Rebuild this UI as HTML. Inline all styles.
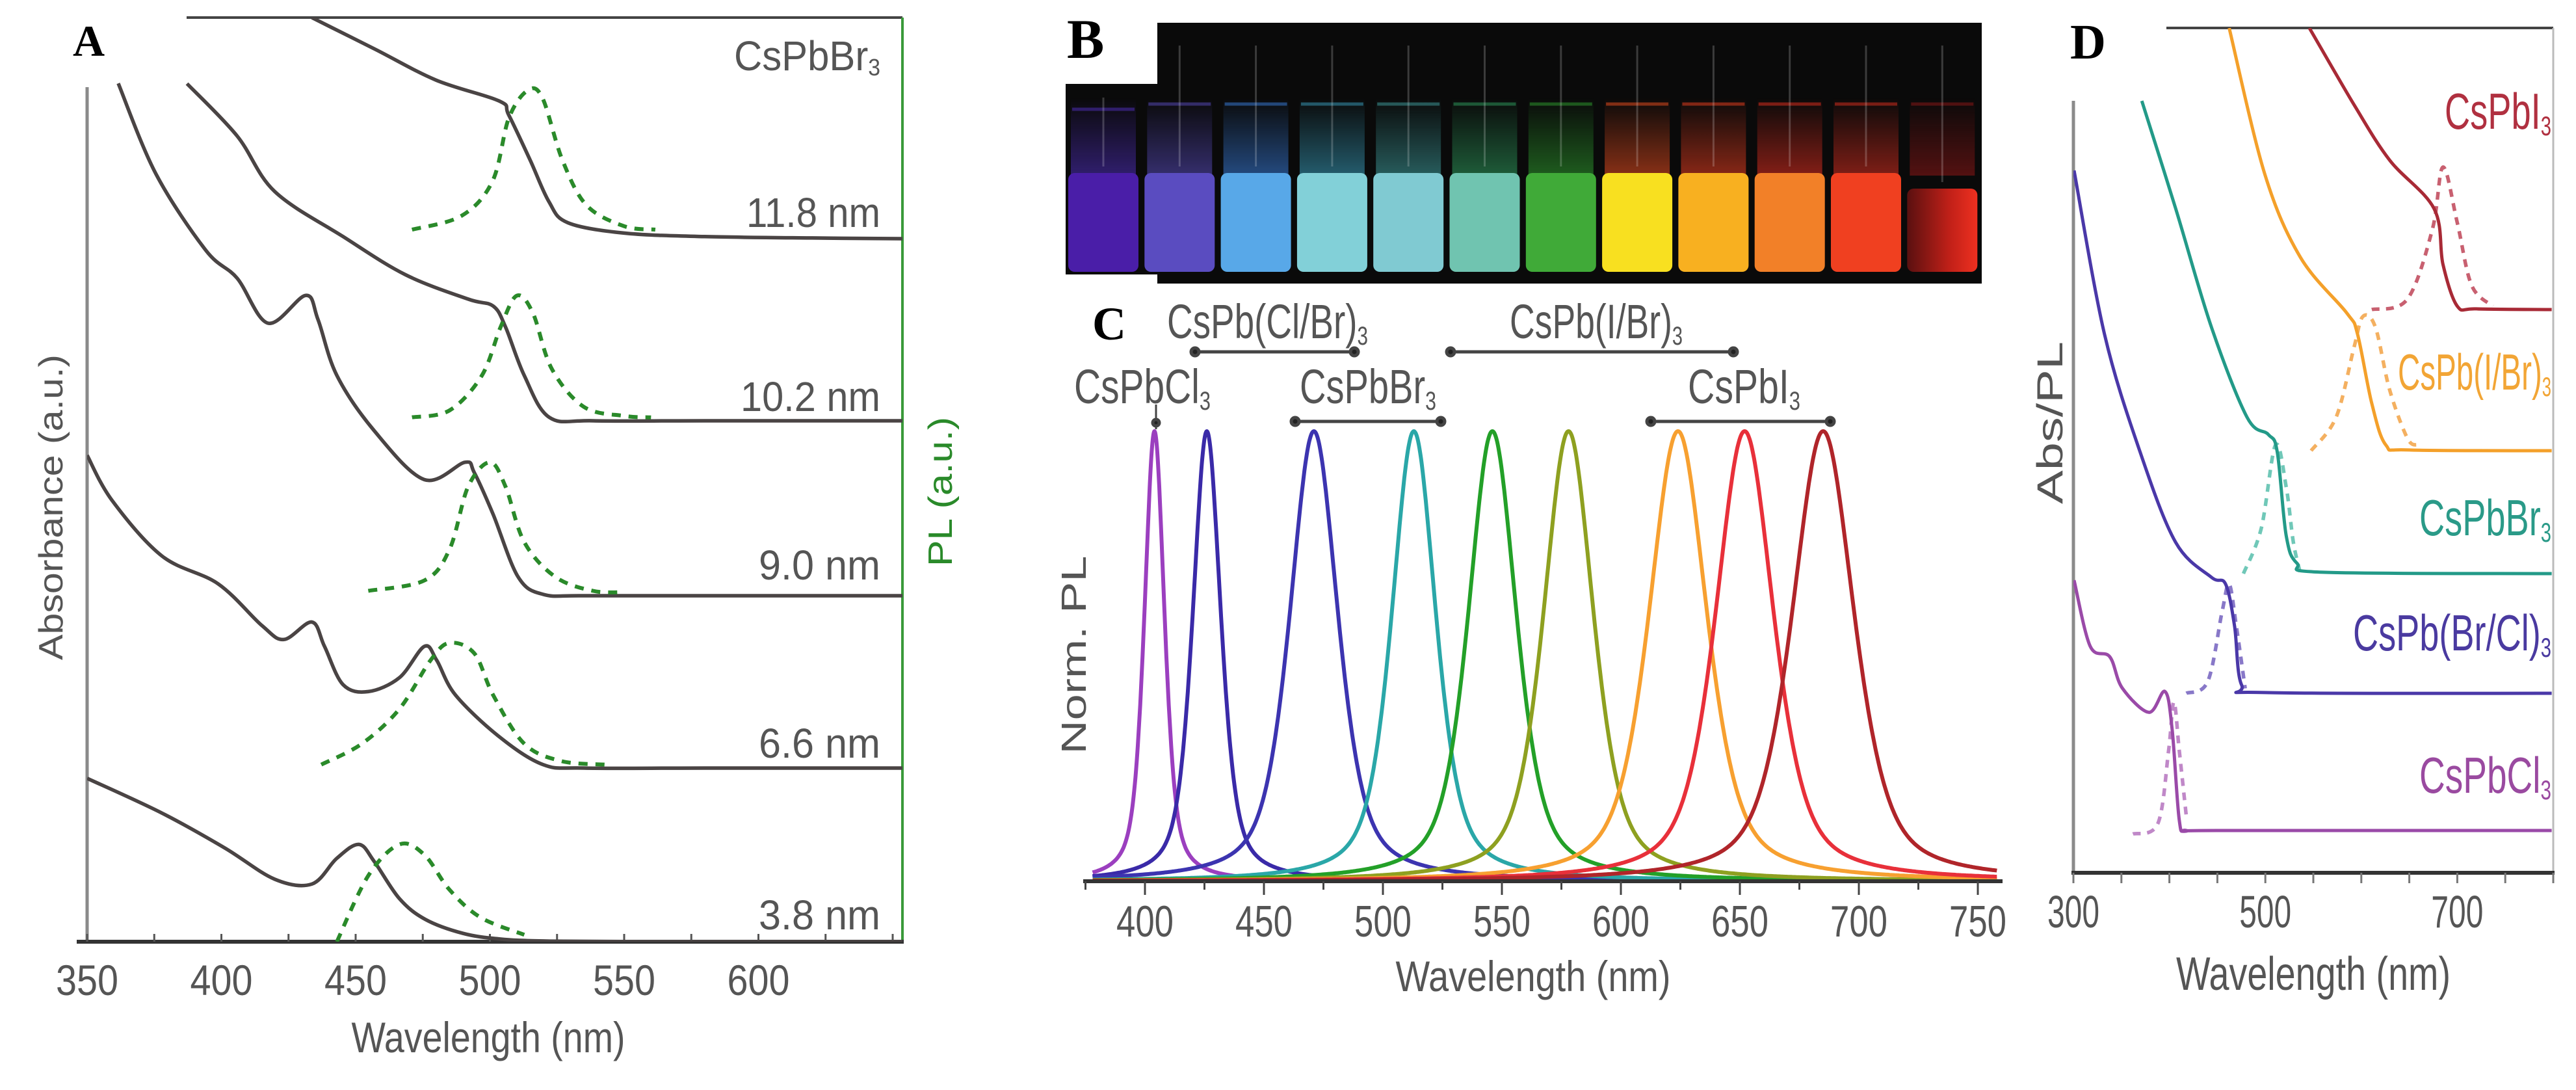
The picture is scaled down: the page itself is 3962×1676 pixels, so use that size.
<!DOCTYPE html>
<html><head><meta charset="utf-8"><title>CsPbX3 nanocrystal optical properties</title>
<style>
html,body{margin:0;padding:0;background:#fff;}
svg{display:block;}
text{font-family:"Liberation Sans",sans-serif;}
.lt{font-family:"Liberation Serif",serif;font-weight:bold;fill:#000;}
</style></head>
<body>
<svg id="fig" width="3962" height="1676" viewBox="0 0 3962 1676" xmlns="http://www.w3.org/2000/svg">
<defs>
<clipPath id="clipA"><rect x="134" y="27" width="1254" height="1421"/></clipPath>
<clipPath id="clipD"><rect x="3189" y="43" width="738" height="1299"/></clipPath>
<linearGradient id="v12" x1="0" x2="1" y1="0" y2="0"><stop offset="0" stop-color="#5a1010"/><stop offset="0.6" stop-color="#c02018"/><stop offset="1" stop-color="#ee3020"/></linearGradient>
<linearGradient id="glow" x1="0" x2="0" y1="0" y2="1"><stop offset="0" stop-color="#fff" stop-opacity="0"/><stop offset="1" stop-color="#fff" stop-opacity="1"/></linearGradient>
<mask id="glowMask"><rect x="1630" y="150" width="1430" height="120" fill="url(#glow)"/></mask>
</defs>

<!-- Panel letters -->
<text class="lt" x="112" y="86" font-size="68">A</text>
<text class="lt" x="1641" y="89" font-size="86">B</text>
<text class="lt" x="1680" y="522" font-size="72">C</text>
<text class="lt" x="3184" y="90" font-size="76">D</text>

<!-- Panel A frame -->
<g id="panelA">
<line x1="287" y1="27" x2="1388" y2="27" stroke="#444" stroke-width="4"/>
<line x1="1388" y1="27" x2="1388" y2="1448" stroke="#3a9a3a" stroke-width="4"/>
<line x1="134" y1="134" x2="134" y2="1448" stroke="#8a8a8a" stroke-width="5"/>
<line x1="118" y1="1448" x2="1390" y2="1448" stroke="#333" stroke-width="6"/>
<g id="aTicks"></g>
<g id="aCurves" clip-path="url(#clipA)"></g>
<g fill="#555" font-size="64" text-anchor="end">
<text x="1354" y="108" textLength="225" lengthAdjust="spacingAndGlyphs">CsPbBr<tspan font-size="36" dy="8">3</tspan></text>
<text x="1354" y="349" textLength="206" lengthAdjust="spacingAndGlyphs">11.8 nm</text>
<text x="1354" y="632" textLength="215" lengthAdjust="spacingAndGlyphs">10.2 nm</text>
<text x="1354" y="891" textLength="187" lengthAdjust="spacingAndGlyphs">9.0 nm</text>
<text x="1354" y="1165" textLength="187" lengthAdjust="spacingAndGlyphs">6.6 nm</text>
<text x="1354" y="1429" textLength="187" lengthAdjust="spacingAndGlyphs">3.8 nm</text>
</g>
<text x="751" y="1618" fill="#555" font-size="66" text-anchor="middle" textLength="421" lengthAdjust="spacingAndGlyphs">Wavelength (nm)</text>
<text transform="translate(96,780) rotate(-90)" fill="#555" font-size="52" text-anchor="middle" textLength="470" lengthAdjust="spacingAndGlyphs">Absorbance (a.u.)</text>
<text transform="translate(1464,756) rotate(-90)" fill="#2a8a2a" font-size="52" text-anchor="middle" textLength="230" lengthAdjust="spacingAndGlyphs">PL (a.u.)</text>
</g>

<!-- Panel B photo -->
<g id="panelB">
<path d="M1639,129 L1780,129 L1780,35 L3048,35 L3048,436 L1780,436 L1780,422 L1639,422 Z" fill="#0a0a0a"/>
<g id="vials"></g>
</g>

<!-- Panel C -->
<g id="panelC">
<g id="cCurves"></g>
<line x1="1666" y1="1355" x2="3080" y2="1355" stroke="#333" stroke-width="6"/>
<g id="cTicks"></g>
<text x="2358" y="1524" fill="#555" font-size="66" text-anchor="middle" textLength="423" lengthAdjust="spacingAndGlyphs">Wavelength (nm)</text>
<text transform="translate(1670,1007) rotate(-90)" fill="#555" font-size="54" text-anchor="middle" textLength="305" lengthAdjust="spacingAndGlyphs">Norm. PL</text>
<g fill="#555" font-size="74">
<text x="1795" y="520" textLength="309" lengthAdjust="spacingAndGlyphs">CsPb(Cl/Br)<tspan font-size="40" dy="10">3</tspan></text>
<text x="2322" y="520" textLength="266" lengthAdjust="spacingAndGlyphs">CsPb(I/Br)<tspan font-size="40" dy="10">3</tspan></text>
<text x="1652" y="620" textLength="210" lengthAdjust="spacingAndGlyphs">CsPbCl<tspan font-size="40" dy="10">3</tspan></text>
<text x="1999" y="620" textLength="210" lengthAdjust="spacingAndGlyphs">CsPbBr<tspan font-size="40" dy="10">3</tspan></text>
<text x="2596" y="620" textLength="173" lengthAdjust="spacingAndGlyphs">CsPbI<tspan font-size="40" dy="10">3</tspan></text>
</g>
<g stroke="#444" stroke-width="5" fill="#222">
<line x1="1838" y1="541" x2="2083" y2="541"/>
<line x1="2231" y1="541" x2="2666" y2="541"/>
<line x1="1992" y1="648" x2="2216" y2="648"/>
<line x1="2539" y1="648" x2="2815" y2="648"/>
<line x1="1778" y1="622" x2="1778" y2="660" stroke-width="3"/>
<circle cx="1838" cy="541" r="6"/><circle cx="2083" cy="541" r="6"/><circle cx="2231" cy="541" r="6"/><circle cx="2666" cy="541" r="6"/>
<circle cx="1992" cy="648" r="6"/><circle cx="2216" cy="648" r="6"/><circle cx="2539" cy="648" r="6"/><circle cx="2815" cy="648" r="6"/><circle cx="1778" cy="650" r="5"/>
</g>
</g>

<!-- Panel D -->
<g id="panelD">
<line x1="3332" y1="43" x2="3927" y2="43" stroke="#444" stroke-width="4"/>
<line x1="3927" y1="43" x2="3927" y2="1342" stroke="#bbb" stroke-width="3"/>
<line x1="3189" y1="155" x2="3189" y2="1342" stroke="#8a8a8a" stroke-width="5"/>
<line x1="3186" y1="1342" x2="3929" y2="1342" stroke="#333" stroke-width="6"/>
<g id="dTicks"></g>
<g id="dCurves" clip-path="url(#clipD)"></g>
<g font-size="78" text-anchor="end">
<text x="3924" y="198" fill="#b03040" textLength="164" lengthAdjust="spacingAndGlyphs">CsPbI<tspan font-size="42" dy="10">3</tspan></text>
<text x="3924" y="599" fill="#f2a535" textLength="236" lengthAdjust="spacingAndGlyphs">CsPb(I/Br)<tspan font-size="42" dy="10">3</tspan></text>
<text x="3924" y="823" fill="#2a9a88" textLength="203" lengthAdjust="spacingAndGlyphs">CsPbBr<tspan font-size="42" dy="10">3</tspan></text>
<text x="3924" y="1000" fill="#4a3aa0" textLength="305" lengthAdjust="spacingAndGlyphs">CsPb(Br/Cl)<tspan font-size="42" dy="10">3</tspan></text>
<text x="3924" y="1219" fill="#9a4aa0" textLength="203" lengthAdjust="spacingAndGlyphs">CsPbCl<tspan font-size="42" dy="10">3</tspan></text>
</g>
<text x="3558" y="1522" fill="#555" font-size="72" text-anchor="middle" textLength="422" lengthAdjust="spacingAndGlyphs">Wavelength (nm)</text>
<text transform="translate(3172,650) rotate(-90)" fill="#555" font-size="56" text-anchor="middle" textLength="250" lengthAdjust="spacingAndGlyphs">Abs/PL</text>
</g>
</svg>

<script>
// ---------- Panel A data (wavelength nm, relative intensity a.u.) ----------
const a118AbsWl = [433.7,457,480,503.5,507,515,522,529,550,580,620,655];
const a118AbsV  = [318,273,228,198,178,113,53,23,8,3,1,0];
const a118PlWl  = [471,489.5,501,507,514,519.5,527,536,550,561.6];
const a118PlV   = [13,33,83,173,213,203,113,48,18,13];
const a102AbsWl = [387.2,405.8,419.8,445.3,468.6,491.9,501.2,505.8,512.8,522.1,538.4,580,655];
const a102AbsV  = [485,410,330,265,210,175,165,135,65,5,0,0,0];
const a102PlWl  = [471,485,497,504,510,516,523,535,550,560];
const a102PlV   = [5,15,65,135,180,155,75,20,7,5];
const a90AbsWl  = [361.6,375.6,394.2,405.8,417.4,431.4,436,443,457,475.6,490.7,494.2,501.2,510.5,519.8,535,580,655];
const a90AbsV   = [737,607,497,457,392,432,397,317,237,167,192,177,117,27,2,0,0,0];
const a90PlWl   = [454.7,475.6,485,491.9,500,505.8,512.8,524.4,538.4,550];
const a90PlV    = [7,22,67,157,192,157,77,27,7,5];
const a66AbsWl  = [350,359.3,377.9,398.8,415.1,423.3,433.7,438.4,445.3,454.7,466.3,475.6,480.2,487.2,503.5,519.8,535,580,655];
const a66AbsV   = [450,385,305,265,205,185,210,175,120,110,130,175,155,105,45,5,0,0,0];
const a66PlWl   = [437.2,452.3,466.3,477.9,484.9,494.2,501.2,512.8,526.7,543];
const a66PlV    = [5,35,85,155,180,165,105,35,10,5];
const a38AbsWl  = [350,377.9,401.2,419.8,433.7,443,451.2,457,466.3,476,490,503.5,520,560,655];
const a38AbsV   = [235,185,135,90,83,120,140,115,62,32,12,4,1,0,0];
const a38PlWl   = [443,454.7,466.3,475.6,484.9,496.5,512.8];
const a38PlV    = [0,95,140,125,75,35,10];
const aTickWl = [350,400,450,500,550,600];
const aTickLabels = ['350','400','450','500','550','600'];
const aBaselines = [367,647,916,1181,1448];

// ---------- Panel C data ----------
const cCenters = [404,426,471,513,546,578,624,652,685];
const cFwhm    = [10,14,24,22,24,25,29,29,31];
const cHeights = [1,1,1,1,1,1,1,1,1];
const cColors  = ['#9b3fbf','#3a2aa8','#3c34b0','#2aa7a8','#23a028','#8ea020','#f7a030','#e8303a','#b0252a'];
const cTickWl = [400,450,500,550,600,650,700,750];
const cTickLabels = ['400','450','500','550','600','650','700','750'];

// ---------- Panel D data ----------
const dI3AbsWl = [545.9,592.3,629.5,675.9,685.1,700,720,798.4];
const dI3AbsV  = [405,295,215,145,65,5,1,0];
const dI3PlWl  = [610.9,648,674,685.1,700,714.9,737.1];
const dI3PlV   = [0,15,115,205,125,35,5];
const dIBrAbsWl = [462.3,499.4,536.6,584.9,596,610.9,625.7,650,798.4];
const dIBrAbsV  = [608,398,278,198,168,68,8,1,0];
const dIBrPlWl  = [547.7,573.7,592.3,601.6,614.6,629.4,648,659];
const dIBrPlV   = [0,48,148,193,178,88,18,8];
const dBrAbsWl = [371.3,406.6,443.7,480.9,503.2,512.4,521.7,532.9,560,798.4];
const dBrAbsV  = [680,525,355,225,200,175,55,15,2,0];
const dBrPlWl  = [477.2,495.7,510.6,521.7,529.2,536.6];
const dBrPlV   = [0,65,185,125,45,0];
const dBrClAbsWl = [300.7,332.3,369.5,406.6,443.7,458.6,467.9,475.3,500,798.4];
const dBrClAbsV  = [752,517,347,217,167,157,97,12,1,0];
const dBrClPlWl  = [417.7,440,454.9,462.3,469.7,479];
const dBrClPlV   = [0,17,117,157,97,7];
const dClAbsWl = [300.7,317.5,337.9,350.9,378.7,395.4,402.9,410.3,417.7,450,798.4];
const dClAbsV  = [360,265,250,205,170,200,145,15,0,0,0];
const dClPlWl  = [362,388,399.2,404.7,410.3,417.7];
const dClPlV   = [-5,10,115,185,115,20];
const dTickWl = [300,350,400,450,500,550,600,650,700,750,800];
const dTickLabels = ['300','','','','500','','','','700','',''];
const dBaselines = [476,693,882,1066,1277];

// ---------- Panel B vial colours ----------
const vialColors = ['#4a1ea8','#5a4cc0','#58a8e8','#82d0d8','#80cad2','#70c4b0','#40aa38','#f8e020','#f8b020','#f28028','#f04020','url(#v12)'];
const glowColors = ['#5030c0','#5a4cc0','#3a80e0','#3aa0c0','#40a0a0','#30a060','#30a030','#f05020','#f04020','#e83020','#e03020','#901818'];

const NS = 'http://www.w3.org/2000/svg';
function mk(tag, attrs, parent){ const e=document.createElementNS(NS,tag); for(const k in attrs) e.setAttribute(k,attrs[k]); parent.appendChild(e); return e; }
function smooth(pts){
  let d='M'+pts[0][0].toFixed(1)+','+pts[0][1].toFixed(1);
  for(let i=0;i<pts.length-1;i++){
    const p0=pts[Math.max(0,i-1)],p1=pts[i],p2=pts[i+1],p3=pts[Math.min(pts.length-1,i+2)];
    const c1=[p1[0]+(p2[0]-p0[0])/6,p1[1]+(p2[1]-p0[1])/6];
    const c2=[p2[0]-(p3[0]-p1[0])/6,p2[1]-(p3[1]-p1[1])/6];
    d+=' C'+c1[0].toFixed(1)+','+c1[1].toFixed(1)+' '+c2[0].toFixed(1)+','+c2[1].toFixed(1)+' '+p2[0].toFixed(1)+','+p2[1].toFixed(1);
  }
  return d;
}

// ---- Panel A ----
const axA = nm => 134 + (nm-350)*4.13;
const ayA = (base,v) => base - v*1.0689;
const gA = document.getElementById('aCurves');
const aSeries = [
 [a118AbsWl,a118AbsV,a118PlWl,a118PlV,'11.8'],
 [a102AbsWl,a102AbsV,a102PlWl,a102PlV,'10.2'],
 [a90AbsWl,a90AbsV,a90PlWl,a90PlV,'9.0'],
 [a66AbsWl,a66AbsV,a66PlWl,a66PlV,'6.6'],
 [a38AbsWl,a38AbsV,a38PlWl,a38PlV,'3.8']
];
aSeries.forEach((s,i)=>{
  const b=aBaselines[i];
  const abs=mk('path',{d:smooth(s[0].map((w,j)=>[axA(w),ayA(b,s[1][j])])),fill:'none',stroke:'#4a4444','stroke-width':5.5},gA);
  
  
  const pl=mk('path',{d:smooth(s[2].map((w,j)=>[axA(w),ayA(b,s[3][j])])),fill:'none',stroke:'#2a8a2a','stroke-width':6,'stroke-dasharray':'14 12'},gA);
  
  
});
const gAT=document.getElementById('aTicks');
for(let w=350; w<=650; w+=25){
  const t=mk('line',{x1:axA(w),x2:axA(w),y1:1448,y2:1436,stroke:'#555','stroke-width':3},gAT);
  
  
}
aTickWl.forEach((w,i)=>{
  const t=mk('text',{x:axA(w),y:1530,'text-anchor':'middle','font-size':66,fill:'#555',textLength:96,lengthAdjust:'spacingAndGlyphs'},gAT);
  t.textContent=aTickLabels[i];
  
  
});

// ---- Panel B vials ----
const gV=document.getElementById('vials');
const gGlow=mk('g',{mask:'url(#glowMask)'},gV);


vialColors.forEach((c,i)=>{
  const x=1639+i*117.3;
  const top = i===11 ? 290 : 266;
  const gl=mk('rect',{x:x+8,y:150,width:100,height:120,fill:glowColors[i],'fill-opacity':0.55},gGlow);
  
  
  const r=mk('rect',{x:x+4,y:top,width:108,height:418-top,fill:c,rx:10},gV);
  
  
  const rim=mk('line',{x1:x+10,x2:x+106,y1:i<1?168:160,y2:i<1?168:160,stroke:glowColors[i],'stroke-opacity':0.5,'stroke-width':5},gV);
  
  
  const cap=mk('line',{x1:x+58,x2:x+58,y1:i<1?150:70,y2:top-10,stroke:'#fff','stroke-opacity':0.2,'stroke-width':3},gV);
  
  
});

// ---- Panel C ----
const axC = nm => 1761 + (nm-400)*3.66;
const ayC = v => 1355 - v*692;
const gC=document.getElementById('cCurves');
cCenters.forEach((c0,i)=>{
  const pts=[]; const hw=cFwhm[i]/2;
  for(let w=378; w<=758; w+=1){
    const x=(w-c0)/hw;
    const v=cHeights[i]*(0.55/(1+x*x) + 0.45*Math.exp(-0.693*x*x));
    pts.push([axC(w),ayC(v)]);
  }
  const p=mk('path',{d:smooth(pts),fill:'none',stroke:cColors[i],'stroke-width':6},gC);
  
  
});
const gCT=document.getElementById('cTicks');
for(let w=375; w<=750; w+=25){
  const t=mk('line',{x1:axC(w),x2:axC(w),y1:1355,y2:w%50===0?1376:1368,stroke:'#444','stroke-width':3},gCT);
  
  
}
cTickWl.forEach((w,i)=>{
  const t=mk('text',{x:axC(w),y:1440,'text-anchor':'middle','font-size':68,fill:'#555',textLength:88,lengthAdjust:'spacingAndGlyphs'},gCT);
  t.textContent=cTickLabels[i];
  
  
});

// ---- Panel D ----
const axD = nm => 3189 + (nm-300)*1.476;
const ayD = (base,v) => base - v*1.0689;
const gD=document.getElementById('dCurves');
const dSeries=[
 [dI3AbsWl,dI3AbsV,dI3PlWl,dI3PlV,'#a82a36','#c86070','cspbi3'],
 [dIBrAbsWl,dIBrAbsV,dIBrPlWl,dIBrPlV,'#f4a02a','#f4b060','cspb-i-br'],
 [dBrAbsWl,dBrAbsV,dBrPlWl,dBrPlV,'#239a88','#70c8b8','cspbbr3'],
 [dBrClAbsWl,dBrClAbsV,dBrClPlWl,dBrClPlV,'#4a38a8','#8878c8','cspb-br-cl'],
 [dClAbsWl,dClAbsV,dClPlWl,dClPlV,'#9a4aa8','#c088c8','cspbcl3']
];
dSeries.forEach((s,i)=>{
  const b=dBaselines[i];
  const pl=mk('path',{d:smooth(s[2].map((w,j)=>[axD(w),ayD(b,s[3][j])])),fill:'none',stroke:s[5],'stroke-width':5.5,'stroke-dasharray':'12 10'},gD);
  
  
  const abs=mk('path',{d:smooth(s[0].map((w,j)=>[axD(w),ayD(b,s[1][j])])),fill:'none',stroke:s[4],'stroke-width':5},gD);
  
  
});
const gDT=document.getElementById('dTicks');
dTickWl.forEach((w,i)=>{
  const t=mk('line',{x1:axD(w),x2:axD(w),y1:1342,y2:1358,stroke:'#777','stroke-width':3},gDT);
  
  
  if(dTickLabels[i]){
    const l=mk('text',{x:axD(w),y:1426,'text-anchor':'middle','font-size':70,fill:'#555',textLength:80,lengthAdjust:'spacingAndGlyphs'},gDT);
    l.textContent=dTickLabels[i];
    
    
  }
});
</script>
</body></html>
